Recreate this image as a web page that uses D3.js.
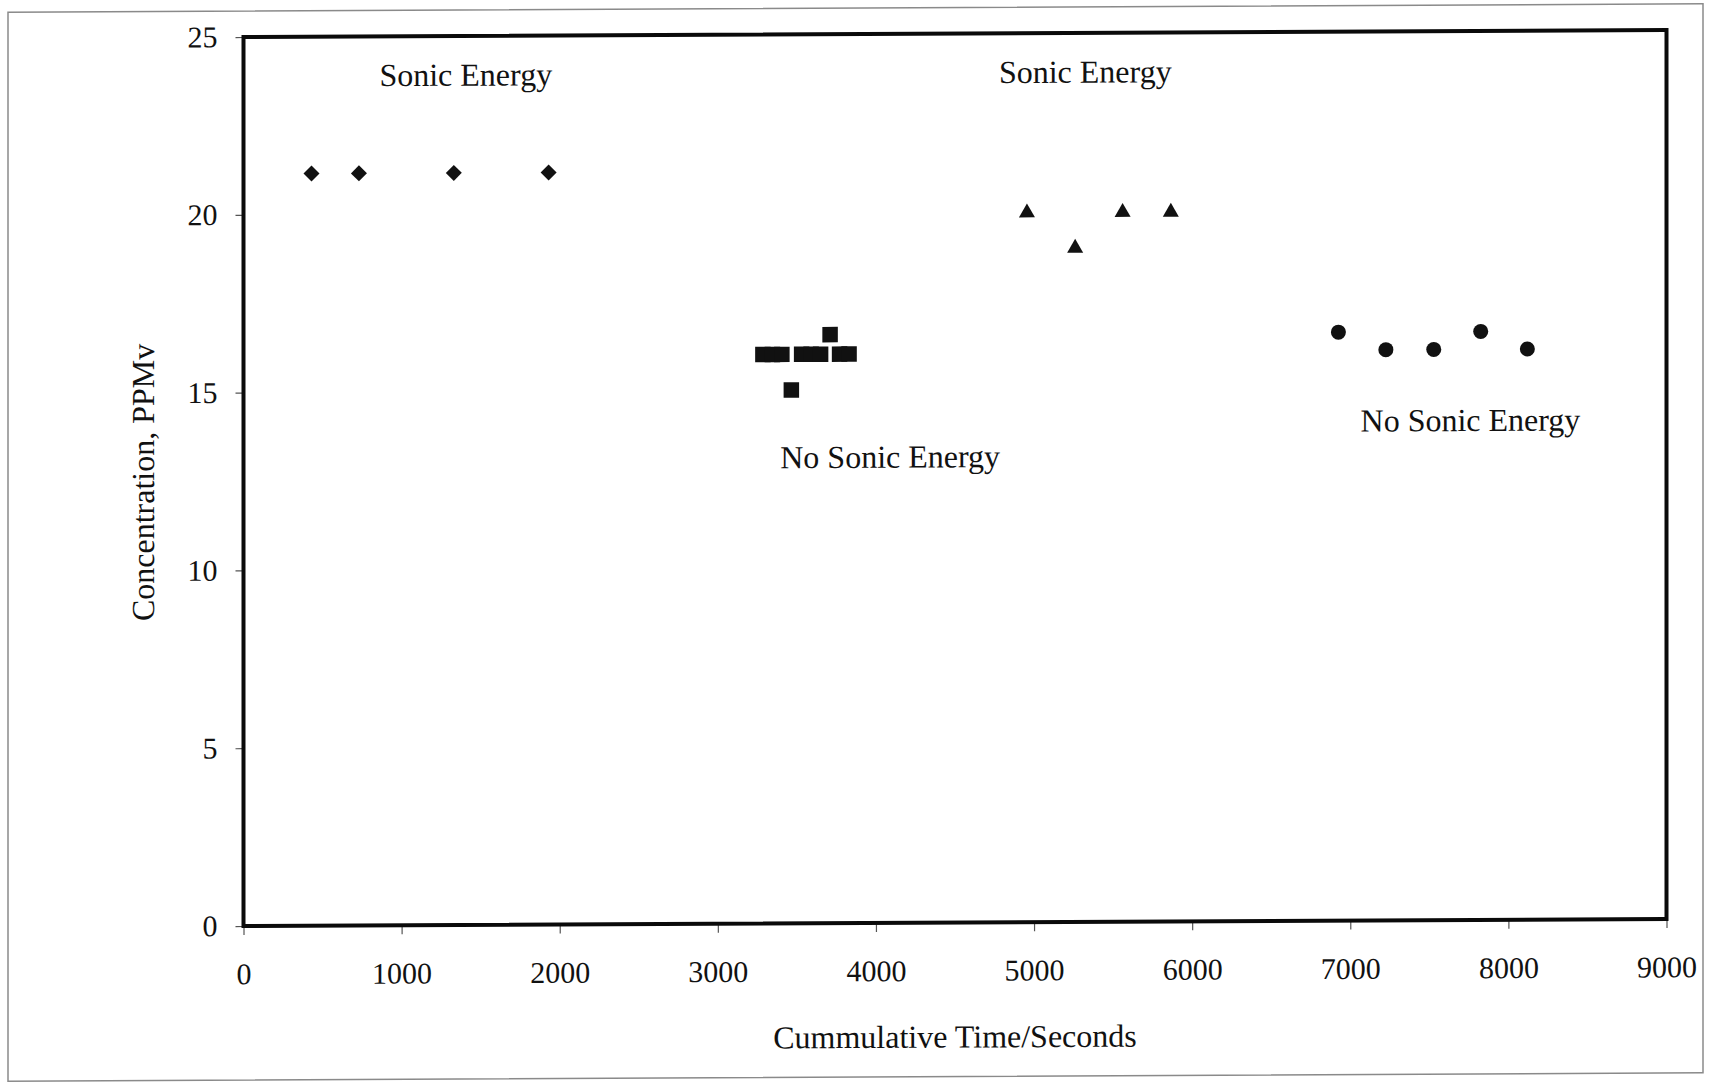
<!DOCTYPE html>
<meta charset="utf-8">
<script src="https://d3js.org/d3.v7.min.js"></script>
<style>
  body { margin: 0; background: #fff; }
  text { font-family: "Liberation Serif", "Times New Roman", serif; fill: #111; }
</style>
<div id="chart"></div>
<script>
// values
var xTicks = [0, 1000, 2000, 3000, 4000, 5000, 6000, 7000, 8000, 9000];
var yTicks = [0, 5, 10, 15, 20, 25];

// first run, sonic energy on (diamonds)
var sonic1Time = [430, 730, 1330, 1930];
var sonic1Conc = [21.15, 21.15, 21.15, 21.15];

// no sonic energy (squares)
var noSonic1Time = [3285, 3345, 3405, 3465, 3530, 3590, 3650, 3710, 3770, 3830];
var noSonic1Conc = [16.0, 16.0, 16.0, 15.0, 16.0, 16.0, 16.0, 16.55, 16.0, 16.0];

// sonic energy again (triangles)
var sonic2Time = [4955, 5260, 5560, 5865];
var sonic2Conc = [19.95, 18.95, 19.95, 19.95];

// no sonic energy again (circles)
var noSonic2Time = [6925, 7225, 7528, 7825, 8120];
var noSonic2Conc = [16.55, 16.05, 16.05, 16.55, 16.05];

// text notes inside the plot
var noteText = ["Sonic Energy", "Sonic Energy", "No Sonic Energy", "No Sonic Energy"];
var noteTime = [1406, 5324, 4090, 7760];
var noteConc = [23.6, 23.6, 12.8, 13.75];

var W = 1712, H = 1086;
var margin = {top: 37, right: 45.5, bottom: 160, left: 243.5},
    width = W - margin.left - margin.right,
    height = H - margin.top - margin.bottom;

var svg = d3.select("#chart")
  .append("svg")
    .attr("width", W)
    .attr("height", H);

// the scan is a little tilted, keep that
var skew = -0.28;
var page = svg.append("g")
    .attr("transform", "translate(0," + (-Math.tan(skew * Math.PI / 180) * margin.left) + ") skewY(" + skew + ")");

// thin frame round the whole figure
page.append("rect")
    .attr("x", 8).attr("y", 11)
    .attr("width", W - 17).attr("height", H - 17)
    .attr("fill", "none")
    .attr("stroke", "#8a8a8a")
    .attr("stroke-width", 1.5);

var g = page.append("g")
    .attr("transform", "translate(" + margin.left + "," + margin.top + ")");

var x = d3.scaleLinear().domain([0, 9000]).range([0, width]);
var y = d3.scaleLinear().domain([0, 25]).range([height, 0]);

// axes
var xAxis = g.append("g")
    .attr("transform", "translate(0," + height + ")")
    .call(d3.axisBottom(x).tickValues(xTicks).tickSize(9).tickPadding(28).tickFormat(d3.format("d")));
var yAxis = g.append("g")
    .call(d3.axisLeft(y).tickValues(yTicks).tickSize(8).tickPadding(18).tickFormat(d3.format("d")));

[xAxis, yAxis].forEach(function(a) {
  a.select(".domain").remove();
  a.selectAll(".tick line").attr("stroke", "#555").attr("stroke-width", 1.2);
  a.selectAll(".tick text")
    .style("font-family", "Liberation Serif")
    .style("font-size", "30px")
    .attr("fill", "#111");
});

// plot border
g.append("rect")
    .attr("x", 0).attr("y", 0)
    .attr("width", width).attr("height", height)
    .attr("fill", "none")
    .attr("stroke", "#0a0a0a")
    .attr("stroke-width", 4);

// axis titles
g.append("text")
    .attr("text-anchor", "middle")
    .attr("x", width / 2)
    .attr("y", height + 125)
    .style("font-size", "32px")
    .text("Cummulative Time/Seconds");

g.append("text")
    .attr("text-anchor", "middle")
    .attr("transform", "translate(-90,445) rotate(-90)")
    .style("font-size", "32px")
    .text("Concentration, PPMv");

// markers
function drawSeries(times, concs, shape, size, rot) {
  var pts = times.map(function(t, i) { return {t: t, c: concs[i]}; });
  g.selectAll(null)
    .data(pts)
    .enter()
    .append("path")
    .attr("d", d3.symbol().type(shape).size(size))
    .attr("transform", function(d) {
      return "translate(" + x(d.t) + "," + y(d.c) + ")" + (rot ? " rotate(" + rot + ")" : "");
    })
    .attr("fill", "#111");
}

drawSeries(sonic1Time, sonic1Conc, d3.symbolSquare, 128, 45);
drawSeries(noSonic1Time, noSonic1Conc, d3.symbolSquare, 240, 0);
drawSeries(sonic2Time, sonic2Conc, d3.symbolTriangle, 111, 0);
drawSeries(noSonic2Time, noSonic2Conc, d3.symbolCircle, 177, 0);

// notes
g.selectAll(null)
  .data(noteText)
  .enter()
  .append("text")
  .attr("text-anchor", "middle")
  .attr("x", function(d, i) { return x(noteTime[i]); })
  .attr("y", function(d, i) { return y(noteConc[i]); })
  .style("font-size", "32px")
  .text(function(d) { return d; });
</script>
